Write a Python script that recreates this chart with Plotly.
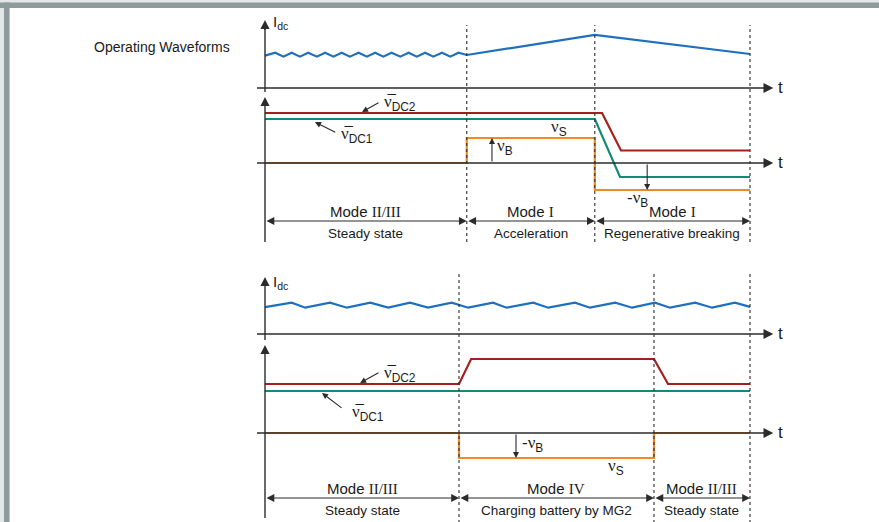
import plotly.graph_objects as go

# ---------------- data (time in arbitrary units, 0..100 = plotted period) ----
TOP_BOUNDS = [0, 41.6, 68.0, 100]
BOT_BOUNDS = [0, 40.0, 80.2, 100]

# top: DC-link current
top_idc_t = [0, 2.1, 3.8, 5.5, 7.2, 8.9, 10.7, 12.4, 14.1, 15.8, 17.5, 19.3, 21.0,
             22.7, 24.4, 26.1, 27.9, 29.6, 31.3, 33.0, 34.7, 36.5, 38.2, 39.9, 41.6,
             68.0, 100]
top_idc_v = [0.98, 1.07, 0.95, 1.07, 0.95, 1.07, 0.95, 1.07, 0.95, 1.07, 0.95, 1.07, 0.95,
             1.07, 0.95, 1.07, 0.95, 1.07, 0.95, 1.07, 0.95, 1.07, 0.95, 1.07, 1.0,
             1.61, 1.03]

# top: voltages
top_vdc2_t = [0, 69.5, 73.4, 100]
top_vdc2_v = [2.0, 2.0, 0.5, 0.5]
top_vdc1_t = [0, 68.0, 73.2, 100]
top_vdc1_v = [1.76, 1.76, -0.56, -0.56]
top_vs_t = [0, 41.6, 41.6, 68.0, 68.0, 100]
top_vs_v = [0, 0, 1.0, 1.0, -1.08, -1.08]

# bottom: DC-link current
bot_idc_t = [0, 5.5, 8.3, 13.4, 16.9, 21.7, 25.4, 29.9, 33.6, 38.5, 41.9, 47.0, 49.8,
             55.3, 58.4, 63.9, 67.0, 72.2, 75.7, 80.4, 83.5, 88.7, 92.2, 96.9, 100]
bot_idc_v = [0.96, 1.12, 0.94, 1.12, 0.94, 1.12, 0.94, 1.12, 0.94, 1.12, 0.94, 1.12, 0.94,
             1.12, 0.94, 1.12, 0.94, 1.12, 0.94, 1.12, 0.94, 1.12, 0.94, 1.12, 0.97]

# bottom: voltages
bot_vdc2_t = [0, 40.0, 42.5, 80.2, 83.1, 100]
bot_vdc2_v = [1.96, 1.96, 2.96, 2.96, 1.96, 1.96]
bot_vdc1_t = [0, 100]
bot_vdc1_v = [1.68, 1.68]
bot_vs_t = [0, 40.0, 40.0, 80.2, 80.2, 100]
bot_vs_v = [0, 0, -1.0, -1.0, 0, 0]

TOP_MODES = ["II/III", "I", "I"]
TOP_STATES = ["Steady state", "Acceleration", "Regenerative breaking"]
BOT_MODES = ["II/III", "IV", "II/III"]
BOT_STATES = ["Steady state", "Charging battery by MG2", "Steady state"]

# ---------------- styling ---------------------------------------------------
RED = "#a3201f"
TEAL = "#138a76"
ORANGE = "#f08a28"
BLUE = "#1e6fc0"
AX = "#2b2b2b"
SANS = "Liberation Sans Narrow, Liberation Sans, Arial, sans-serif"
SERIF = "Liberation Serif"

W, H = 879, 522
PX_PER_T = 4.85
X0 = 265.0
t_min = -X0 / PX_PER_T
t_max = t_min + W / PX_PER_T


def yrange(zero_px, px_per_unit):
    top = zero_px / px_per_unit
    return [top - H / px_per_unit, top]


fig = go.Figure()

def add_line(t, v, color, yax, width=2.2):
    fig.add_trace(go.Scatter(x=t, y=v, mode="lines", yaxis=yax,
                             line=dict(color=color, width=width),
                             hoverinfo="skip", showlegend=False))

def arrow(x, y, ax, ay, yref, both=False, width=1.2, size=1.0, head=2):
    fig.add_annotation(x=x, y=y, ax=ax, ay=ay, xref="x", yref=yref,
                       axref="x", ayref=yref, text="", showarrow=True,
                       arrowhead=head, startarrowhead=head, arrowsize=size,
                       startarrowsize=size,
                       arrowwidth=width, arrowcolor=AX,
                       arrowside="end+start" if both else "end")

def label(x, y, text, yref, size=14, xanchor="center", font=SANS):
    fig.add_annotation(x=x, y=y, xref="x", yref=yref, text=text, showarrow=False,
                       xanchor=xanchor, yanchor="middle",
                       font=dict(family=font, size=size, color="#1a1a1a"))

def nu(sub, bar=False, minus=False):
    core = "ν\u0305" if bar else "ν"
    pre = "-" if minus else ""
    return (f"{pre}<span style='font-family:{SERIF}'>{core}</span>"
            f"<sub>{sub}</sub>")

# axes for each sub-panel: (zero pixel row, pixels per unit)
AXES = {"y": (88, 33), "y2": (163, 25), "y3": (334, 28), "y4": (433, 25)}

# ----- coordinate axes (vertical + time) ------
for yref, (lo, hi) in {"y": (-0.12, 2.06), "y2": (-3.16, 2.64),
                       "y3": (-0.21, 2.04), "y4": (-3.4, 3.52)}.items():
    fig.add_shape(type="line", x0=0, x1=0, y0=lo, y1=hi - 0.1, xref="x", yref=yref,
                  line=dict(color=AX, width=1.4))
    arrow(0, hi, 0, hi - 0.35, yref, width=1.4, size=1.3)
    fig.add_shape(type="line", x0=-1.65, x1=103.5, y0=0, y1=0, xref="x", yref=yref,
                  line=dict(color=AX, width=1.4))
    arrow(104.8, 0, 102.5, 0, yref, width=1.4, size=1.4)
    label(105.3, 0.02, "t", yref, size=17, xanchor="left", font="Liberation Sans, sans-serif")

# dashed separators
for b in TOP_BOUNDS[1:]:
    fig.add_shape(type="line", x0=b, x1=b, y0=-3.16, y1=5.52, xref="x", yref="y2",
                  line=dict(color=AX, width=1.1, dash="3px,3px"))
for b in BOT_BOUNDS[1:]:
    fig.add_shape(type="line", x0=b, x1=b, y0=-3.6, y1=6.4, xref="x", yref="y4",
                  line=dict(color=AX, width=1.1, dash="3px,3px"))

# ----- waveforms ------
add_line(top_idc_t, top_idc_v, BLUE, "y")
add_line(top_vdc2_t, top_vdc2_v, RED, "y2")
add_line(top_vdc1_t, top_vdc1_v, TEAL, "y2")
add_line(top_vs_t, top_vs_v, ORANGE, "y2")
add_line(bot_idc_t, bot_idc_v, BLUE, "y3")
add_line(bot_vdc2_t, bot_vdc2_v, RED, "y4")
add_line(bot_vdc1_t, bot_vdc1_v, TEAL, "y4")
add_line(bot_vs_t, bot_vs_v, ORANGE, "y4")

# ----- mode spans ------
def modes(bounds, names, states, yref, y_arrow, y_name, y_state):
    for i in range(len(names)):
        a, b = bounds[i], bounds[i + 1]
        arrow(b, y_arrow, a, y_arrow, yref, both=True, width=1.2, size=1.3)
        c = (a + b) / 2
        label(c, y_name,
              f"Mode <span style='font-family:{SERIF}'>{names[i]}</span>", yref, size=15)
        label(c, y_state, states[i], yref, size=13.5)

modes(TOP_BOUNDS, TOP_MODES, TOP_STATES, "y2", -2.32, -1.92, -2.8)
modes(BOT_BOUNDS, BOT_MODES, BOT_STATES, "y4", -2.6, -2.2, -3.08)

# ----- signal labels ------
label(1.2, 2.0, "I<sub>dc</sub>", "y", size=15, xanchor="left")
label(1.2, 1.85, "I<sub>dc</sub>", "y3", size=15, xanchor="left")

# top voltage labels
label(24.2, 2.4, nu("DC2", bar=True), "y2", size=17, xanchor="left")
arrow(20.0, 2.04, 23.7, 2.44, "y2", width=1.1, size=1.1)
label(15.3, 1.12, nu("DC1", bar=True), "y2", size=17, xanchor="left")
arrow(10.3, 1.64, 14.8, 1.2, "y2", width=1.1, size=1.1)
label(58.6, 1.42, nu("S"), "y2", size=17, xanchor="left")
label(47.5, 0.66, nu("B"), "y2", size=17, xanchor="left")
arrow(46.8, 1.0, 46.8, 0.0, "y2", width=1.1, size=1.1)
label(74.3, -1.42, nu("B", minus=True), "y2", size=17, xanchor="left")
arrow(78.8, -1.08, 78.8, 0.0, "y2", width=1.1, size=1.1)

# bottom voltage labels
label(24.2, 2.36, nu("DC2", bar=True), "y4", size=17, xanchor="left")
arrow(19.6, 2.0, 23.7, 2.44, "y4", width=1.1, size=1.1)
label(17.5, 0.8, nu("DC1", bar=True), "y4", size=17, xanchor="left")
arrow(11.75, 1.6, 16.1, 0.96, "y4", width=1.1, size=1.1)
label(52.5, -0.44, nu("B", minus=True), "y4", size=17, xanchor="left")
arrow(51.75, -1.0, 51.75, 0.0, "y4", width=1.1, size=1.1)
label(70.4, -1.34, nu("S"), "y4", size=17, xanchor="left")

# title
fig.add_annotation(x=92 / W, y=1 - 47 / H, xref="paper", yref="paper",
                   text="Operating Waveforms", showarrow=False, xanchor="left",
                   yanchor="middle", font=dict(family=SANS, size=14, color="#1a1a1a"))

# frame (gray border at top and left)
fig.add_shape(type="rect", xref="paper", yref="paper", x0=0, x1=1, y0=1 - 8 / H, y1=1,
              fillcolor="#e4e7e8", line_width=0, layer="below")
fig.add_shape(type="rect", xref="paper", yref="paper", x0=0, x1=1, y0=1 - 8 / H,
              y1=1 - 2.5 / H, fillcolor="#8e9b9c", line_width=0)
fig.add_shape(type="rect", xref="paper", yref="paper", x0=0, x1=9.5 / W, y0=0, y1=1,
              fillcolor="#e4e7e8", line_width=0, layer="below")
fig.add_shape(type="rect", xref="paper", yref="paper", x0=4 / W, x1=9.5 / W, y0=0,
              y1=1 - 2.5 / H, fillcolor="#8e9b9c", line_width=0)

layout_axes = {}
for k, (z, s) in AXES.items():
    name = "yaxis" if k == "y" else "yaxis" + k[1:]
    d = dict(range=yrange(z, s), visible=False, fixedrange=True)
    if k != "y":
        d["overlaying"] = "y"
    layout_axes[name] = d

fig.update_layout(
    width=W, height=H, margin=dict(l=0, r=0, t=0, b=0),
    paper_bgcolor="white", plot_bgcolor="white",
    xaxis=dict(range=[t_min, t_max], visible=False, fixedrange=True),
    showlegend=False, **layout_axes,
)

fig.write_html("out.html", config={"displayModeBar": False},
               post_script="document.body.style.margin='0';document.body.style.overflow='hidden';")
